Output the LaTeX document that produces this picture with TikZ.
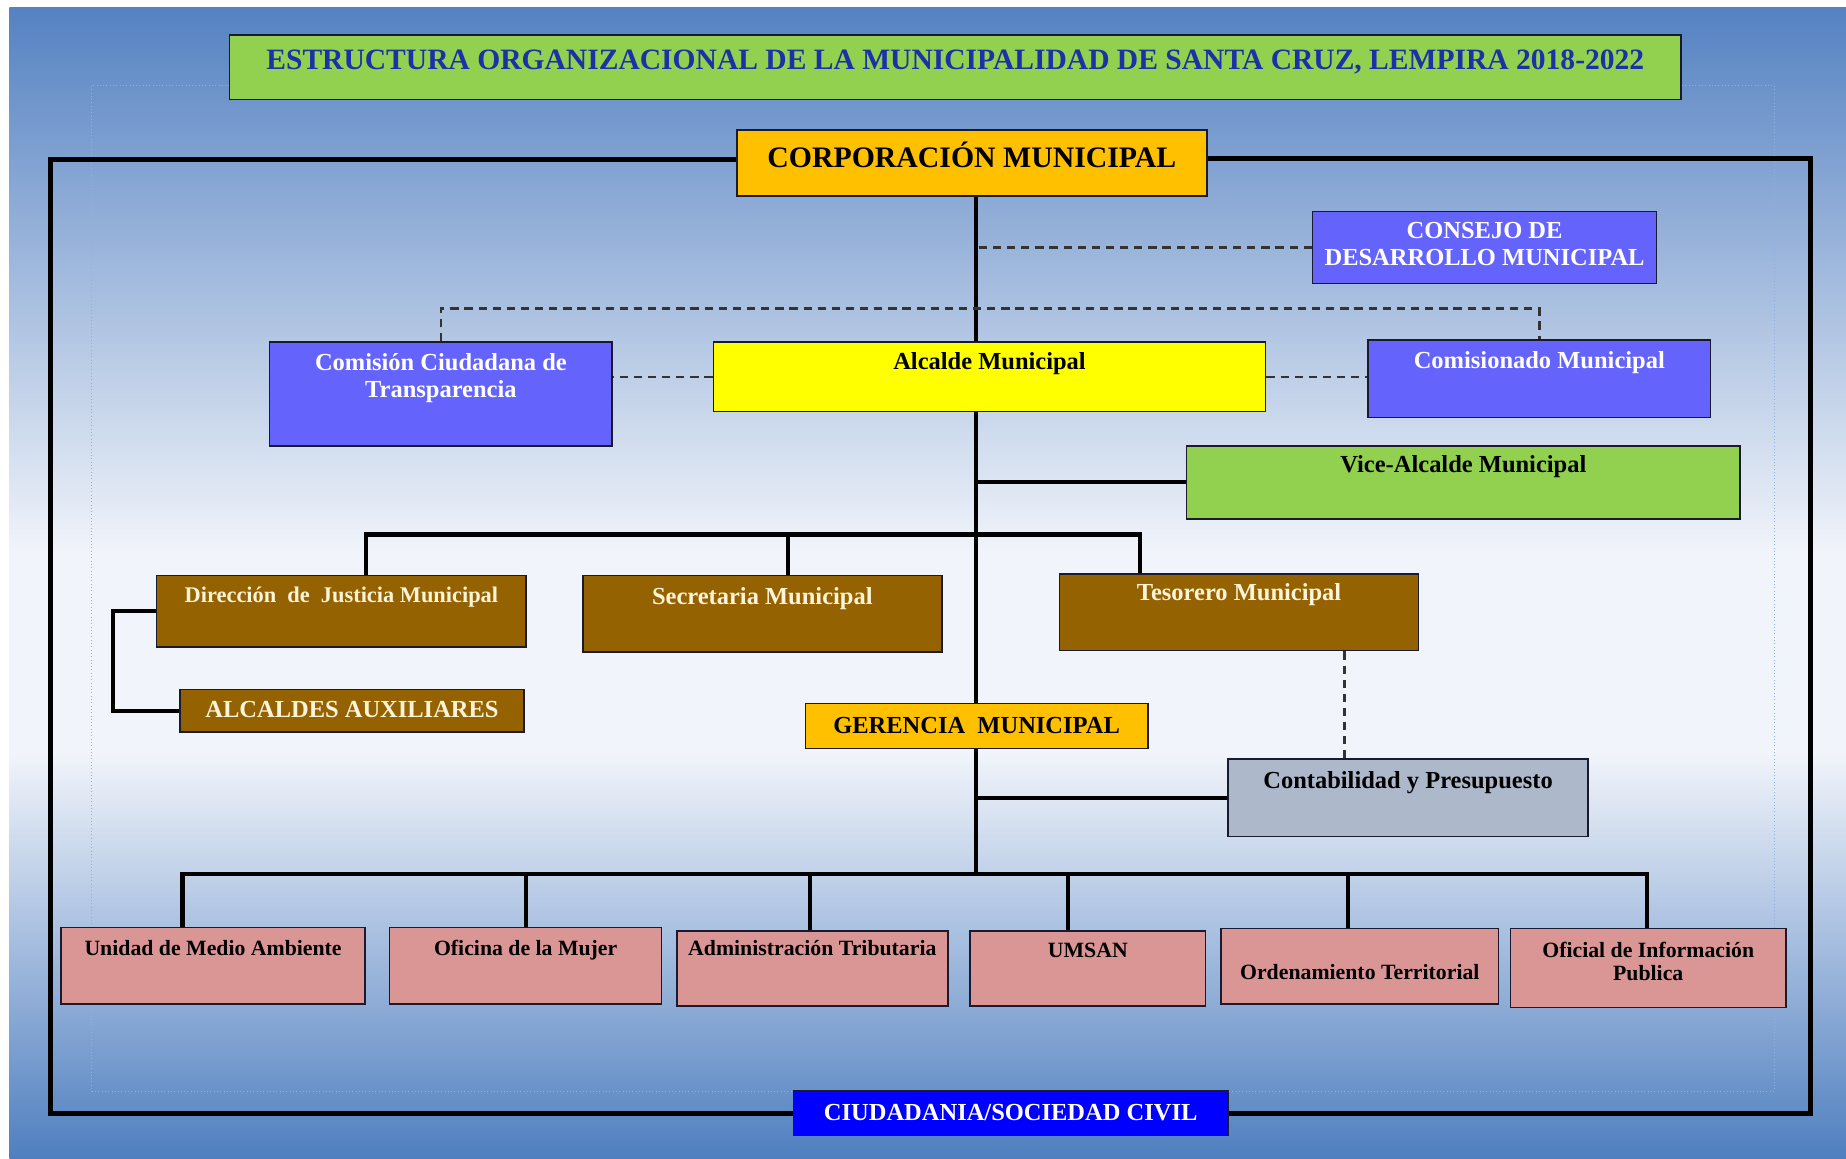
\documentclass[tikz,border=0pt]{standalone}
\usepackage{fontspec}
\setmainfont{Liberation Serif}
\definecolor{bgtop}{HTML}{5582C2}
\definecolor{bgmid}{HTML}{F1F4FA}
\definecolor{bgbot}{HTML}{4F7FC0}
\definecolor{dotc}{HTML}{8FB0E0}
\definecolor{titgreen}{HTML}{92D050}
\definecolor{titblue}{HTML}{1C30A8}
\definecolor{orangeb}{HTML}{FFC000}
\definecolor{blueb}{HTML}{6464FC}
\definecolor{yellowb}{HTML}{FFFF00}
\definecolor{brownb}{HTML}{946200}
\definecolor{creamt}{HTML}{FFF4D8}
\definecolor{grayb}{HTML}{ADB9CA}
\definecolor{pinkb}{HTML}{DA9694}
\definecolor{pureblue}{HTML}{0000FF}
\definecolor{boxline}{HTML}{1A1A2E}
\newcommand\orgbox[8]{%
  \pgfmathsetmacro\obw{#4-#2}%
  \pgfmathsetmacro\obx{(#2+#4)/2}%
  \pgfmathsetmacro\obh{#6-#3}%
  \pgfmathsetmacro\obd{#5-#6}%
  \node[orgb,#7,minimum width=\obw pt,text height=\obh pt,text depth=\obd pt] (#1) at (\obx,#3) {#8};%
}
\newcommand\twolines[2]{\begin{tabular}[t]{@{}c@{}}#1\\#2\end{tabular}}
\begin{document}
\begin{tikzpicture}[x=1pt,y=-1pt,
  orgb/.style={draw=boxline,line width=1.3pt,inner sep=0pt,anchor=north},
  ftitle/.style={font=\fontsize{25.1}{28}\selectfont\bfseries},
  fbig/.style={font=\fontsize{25.3}{28}\selectfont\bfseries},
  fmid/.style={font=\fontsize{20.8}{23}\selectfont\bfseries},
  fdir/.style={font=\fontsize{19}{22}\selectfont\bfseries},
  fsmall/.style={font=\fontsize{18.5}{19}\selectfont\bfseries},
  conn/.style={line width=3.5pt,black},
  framel/.style={line width=4pt,black},
  dsh/.style={line width=2pt,black!80,dash pattern=on 7pt off 5pt}
]
\useasboundingbox (0,0) rectangle (1568,984);
% background
\fill[white] (0,0) rectangle (1568,984);
\shade[top color=bgtop,bottom color=bgmid] (8,6) rectangle (1568,470);
\fill[bgmid] (8,470) rectangle (1568,640);
\shade[top color=bgmid,bottom color=bgbot] (8,640) rectangle (1568,984);
\draw[dotc,line width=0.8pt,dotted] (78,73) rectangle (1507,927);

% coordinates
\coordinate (spine) at (829,0);
\coordinate (frL) at (43,0);
\coordinate (frR) at (1538,0);
\coordinate (d1) at (311,454);
\coordinate (d2) at (669,454);
\coordinate (d3) at (968,454);
\coordinate (tc) at (1142,0);
\coordinate (b1) at (155,742);
\coordinate (b2) at (447,742);
\coordinate (b3) at (688,742);
\coordinate (b4) at (907,742);
\coordinate (b5) at (1145,742);
\coordinate (b6) at (1399,742);

% boxes
\orgbox{ttl}{195}{29}{1428}{84}{58}{fill=titgreen,ftitle,text=titblue}{ESTRUCTURA ORGANIZACIONAL DE LA MUNICIPALIDAD DE SANTA CRUZ, LEMPIRA 2018-2022}
\orgbox{corp}{626}{110}{1025}{166}{142}{fill=orangeb,fbig,text=black}{CORPORACIÓN MUNICIPAL}
\orgbox{cdm}{1115}{179}{1407}{240}{202}{fill=blueb,fmid,text=white}{\twolines{CONSEJO DE}{DESARROLLO MUNICIPAL}}
\orgbox{cct}{229}{290}{520}{378}{314}{fill=blueb,fmid,text=white}{\twolines{Comisión Ciudadana de}{Transparencia}}
\orgbox{alc}{606}{290}{1075}{349}{313}{fill=yellowb,fmid,text=black}{Alcalde Municipal}
\orgbox{com}{1162}{288}{1453}{354}{312}{fill=blueb,fmid,text=white}{Comisionado Municipal}
\orgbox{vice}{1008}{378}{1478}{440}{401}{fill=titgreen,fmid,text=black}{Vice-Alcalde Municipal}
\orgbox{dir}{133}{488}{447}{549}{511}{fill=brownb,fdir,text=creamt}{Dirección\ \ de\ \ Justicia Municipal}
\orgbox{sec}{495}{488}{800}{553}{513}{fill=brownb,fmid,text=creamt}{Secretaria Municipal}
\orgbox{tes}{900}{487}{1205}{552}{509}{fill=brownb,fmid,text=creamt}{Tesorero Municipal}
\orgbox{aux}{153}{585}{445}{621}{609}{fill=brownb,fmid,text=creamt}{ALCALDES AUXILIARES}
\orgbox{ger}{684}{597}{975}{635}{622}{fill=orangeb,fmid,text=black}{GERENCIA\ \ MUNICIPAL}
\orgbox{cont}{1043}{644}{1349}{710}{669}{fill=grayb,fmid,text=black}{Contabilidad y Presupuesto}
\orgbox{u1}{52}{787}{310}{852}{811}{fill=pinkb,fsmall,text=black}{Unidad de Medio Ambiente}
\orgbox{u2}{331}{787}{562}{852}{811}{fill=pinkb,fsmall,text=black}{Oficina de la Mujer}
\orgbox{u3}{575}{790}{805}{854}{811}{fill=pinkb,fsmall,text=black}{Administración Tributaria}
\orgbox{u4}{824}{790}{1024}{854}{813}{fill=pinkb,fsmall,text=black}{UMSAN}
\orgbox{u5}{1037}{788}{1273}{852}{831}{fill=pinkb,fsmall,text=black}{Ordenamiento Territorial}
\orgbox{u6}{1283}{788}{1517}{855}{813}{fill=pinkb,fsmall,text=black}{\twolines{Oficial de Información}{Publica}}
\orgbox{ciu}{674}{926}{1043}{964}{951}{fill=pureblue,fmid,text=white}{CIUDADANIA/SOCIEDAD CIVIL}

% outer frame
\draw[framel] ([yshift=3pt]corp.west) -- ([yshift=3pt]corp.west -| frL) |- (ciu.west);
\draw[framel] ([yshift=4pt]corp.east) -- ([yshift=4pt]corp.east -| frR) |- (ciu.east);

% solid connectors
\draw[conn] (corp.south -| spine) -- (alc.north -| spine);
\draw[conn] (alc.south -| spine) -- (ger.north -| spine);
\draw[conn] (vice.west) -- (vice.west -| spine);
\draw[conn] (d1 |- dir.north) -- (d1) -- (d3) -- (d3 |- tes.north);
\draw[conn] (d2) -- (d2 |- sec.north);
\draw[conn] (dir.west) -- ++(-36,0) |- (aux.west);
\draw[conn] (cont.west) -- (cont.west -| spine);
\draw[conn] (ger.south -| spine) -- (spine |- b1);
\draw[conn] (b1 |- u1.north) -- (b1) -- (b6) -- (b6 |- u6.north);
\draw[conn] (b2) -- (b2 |- u2.north);
\draw[conn] (b3) -- (b3 |- u3.north);
\draw[conn] (b4) -- (b4 |- u4.north);
\draw[conn] (b5) -- (b5 |- u5.north);

% dashed connectors
\draw[dsh] (cdm.west) -- (cdm.west -| spine);
\draw[dsh] (cct.north) -- ++(0,-28) -| (com.north);
\draw[dsh] (alc.west) -- (alc.west -| cct.east);
\draw[dsh] (alc.east) -- (alc.east -| com.west);
\draw[dsh] (tes.south -| tc) -- (cont.north -| tc);
\end{tikzpicture}
\end{document}
